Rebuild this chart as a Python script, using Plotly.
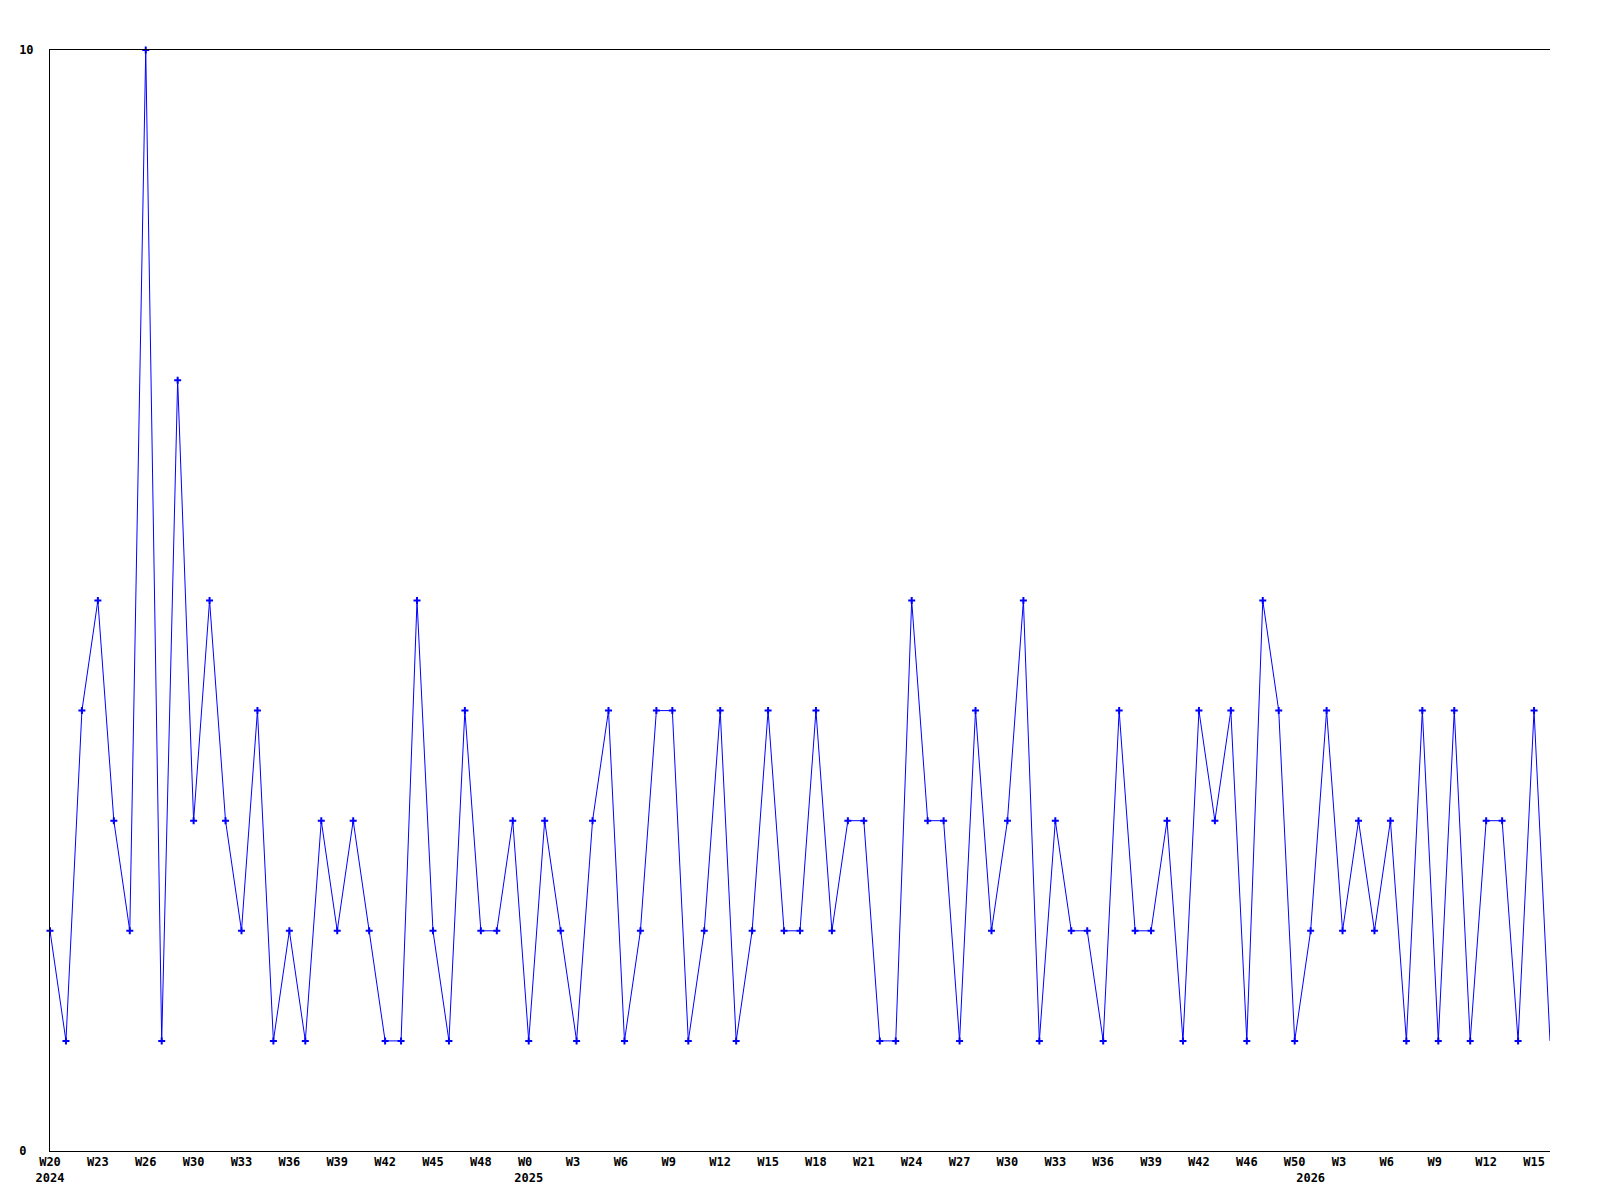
import plotly.graph_objects as go

# ─── Data ──────────────────────────────────────────────────────────────────────
week_values = [
    2, 1, 4, 5, 3, 2, 10, 1, 7, 3,
    5, 3, 2, 4, 1, 2, 1, 3, 2, 3,
    2, 1, 1, 5, 2, 1, 4, 2, 2, 3,
    1, 3, 2, 1, 3, 4, 1, 2, 4, 4,
    1, 2, 4, 1, 2, 4, 2, 2, 4, 2,
    3, 3, 1, 1, 5, 3, 3, 1, 4, 2,
    3, 5, 1, 3, 2, 2, 1, 4, 2, 2,
    3, 1, 4, 3, 4, 1, 5, 4, 1, 2,
    4, 2, 3, 2, 3, 1, 4, 1, 4, 1,
    3, 3, 1, 4, 1,
]

week_labels = [
    "W20", "W23", "W26", "W30", "W33", "W36", "W39", "W42", "W45", "W48",
    "W0", "W3", "W6", "W9", "W12", "W15", "W18", "W21", "W24", "W27",
    "W30", "W33", "W36", "W39", "W42", "W46", "W50", "W3", "W6", "W9",
    "W12", "W15",
]
label_step = 3
year_labels = {0: "2024", 30: "2025", 79: "2026"}

y_ticks = [0, 10]
y_tick_text = ["0\u00a0", "10"]

# ─── Styling ───────────────────────────────────────────────────────────────────
BLUE = "#0000ff"
BLACK = "#000000"
FONT = dict(family="DejaVu Sans Mono", size=12, color=BLACK, weight="bold")

x = list(range(len(week_values)))

tick_vals = []
tick_text = []
for k, lab in enumerate(week_labels):
    i = k * label_step
    lab = lab + "\u00a0" * (3 - len(lab))
    if i in year_labels:
        lab = lab + "<br>" + year_labels[i]
    tick_vals.append(i)
    tick_text.append(lab)
for i, yr in year_labels.items():
    if i not in tick_vals:
        tick_vals.append(i)
        tick_text.append("\u00a0<br>" + yr)

fig = go.Figure()
fig.add_trace(go.Scatter(
    x=x, y=week_values, mode="lines",
    line=dict(color=BLUE, width=1),
    cliponaxis=False, hoverinfo="skip",
))
fig.add_trace(go.Scatter(
    x=x[:-1], y=week_values[:-1], mode="markers",
    marker=dict(symbol="cross-thin", size=5, line=dict(color=BLUE, width=2)),
    cliponaxis=False,
))

# page body has an 8px margin, so the figure is sized to fit inside it
fig.update_layout(
    width=1584, height=1184, autosize=False,
    margin=dict(l=42, r=42, t=42, b=41, pad=0),
    plot_bgcolor="white", paper_bgcolor="white",
    showlegend=False, font=FONT,
)
fig.update_xaxes(
    range=[0, len(week_values) - 1],
    tickmode="array", tickvals=tick_vals, ticktext=tick_text,
    ticks="", showgrid=False, zeroline=False,
    showline=True, linecolor=BLACK, linewidth=1, mirror=True,
    tickfont=FONT, ticklabelstandoff=0, automargin=False,
)
fig.update_yaxes(
    range=[0, 10],
    tickmode="array", tickvals=y_ticks, ticktext=y_tick_text,
    ticks="", showgrid=False, zeroline=False,
    showline=True, linecolor=BLACK, linewidth=1,
    tickfont=FONT, ticklabelstandoff=13, automargin=False,
)

fig.write_html("out.html")
